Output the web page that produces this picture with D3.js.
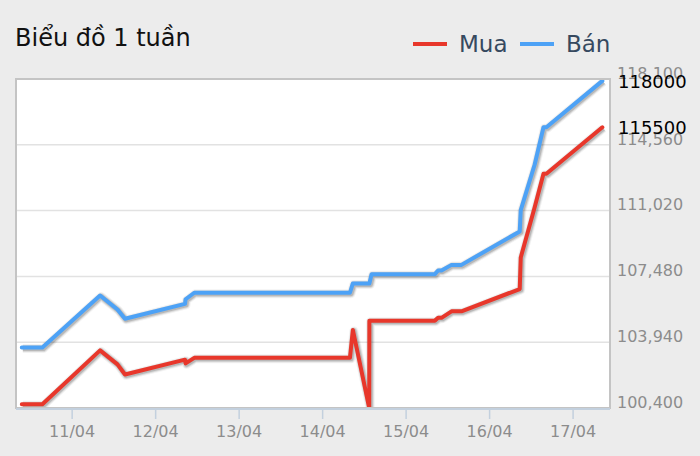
<!DOCTYPE html>
<html><head><meta charset="utf-8">
<script src="https://cdn.jsdelivr.net/npm/d3@7"></script>
<style>
html,body{margin:0;padding:0;background:#ececec;}
svg{display:block;font-family:"DejaVu Sans",sans-serif;}
</style></head>
<body><svg id="c" width="700" height="456"></svg>
<script>
const times = ["2025-04-10T09:40","2025-04-10T15:35","2025-04-11T08:10","2025-04-11T13:10","2025-04-11T15:20",
"2025-04-12T08:35","2025-04-12T08:45","2025-04-12T11:15","2025-04-14T08:00","2025-04-14T08:50",
"2025-04-14T13:32","2025-04-14T13:35","2025-04-14T14:13","2025-04-15T08:24","2025-04-15T09:20",
"2025-04-15T10:19","2025-04-15T13:11","2025-04-15T16:03","2025-04-16T08:48","2025-04-16T09:06",
"2025-04-16T13:06","2025-04-16T15:38","2025-04-16T16:28","2025-04-17T08:33"];
const banValues = [103650,103650,106450,105700,105200,106000,106250,106600,106600,107100,
107100,107100,107600,107600,107800,107800,108100,108100,109900,111050,113500,115500,115500,118000];
const muaValues = [100600,100600,103500,102750,102200,103000,102800,103100,103100,104600,
100400,105100,105100,105100,105250,105250,105600,105600,106800,108500,111200,113000,113000,115500];
const yTicks = [100400,103940,107480,111020,114560,118100];
const xTickDates = ["2025-04-11","2025-04-12","2025-04-13","2025-04-14","2025-04-15","2025-04-16","2025-04-17"];
const seriesNames = ["Mua","Bán"];
const lastLabels = ["115500","118000"];

const parse = d3.timeParse("%Y-%m-%dT%H:%M");
const parseDay = d3.timeParse("%Y-%m-%d");
const svg = d3.select("#c");
const L=16, R=610, T=79, B=408;
const x = d3.scaleTime().domain([parse("2025-04-10T08:00"), parse("2025-04-17T10:45")]).range([L,R]);
const y = d3.scaleLinear().domain([100400,118100]).range([B,T]);
const colors = {"Mua":"#e8372b","Bán":"#4da2f6"};

// title
svg.append("text").attr("x",15).attr("y",46).attr("font-size",24).attr("fill","#111").text("Biểu đồ 1 tuần");

// plot bg
svg.append("rect").attr("x",L).attr("y",T).attr("width",R-L).attr("height",B-T).attr("fill","#fff");

// grid
svg.append("g").selectAll("line").data(yTicks).join("line")
 .attr("x1",L).attr("x2",R).attr("y1",d=>y(d)).attr("y2",d=>y(d))
 .attr("stroke","#e2e2e2").attr("stroke-width",1.5);

svg.append("clipPath").attr("id","clip").append("rect").attr("x",L).attr("y",T-6).attr("width",R-L).attr("height",B-T+5);

const data = times.map((t,i)=>({t:parse(t), mua:muaValues[i], ban:banValues[i]}));
const series = [{name:"Mua", key:"mua"},{name:"Bán", key:"ban"}];
const g = svg.append("g").attr("clip-path","url(#clip)");
series.forEach(s=>{
  const line = d3.line().x(d=>x(d.t)).y(d=>y(d[s.key]));
  const p = line(data);
  [[9,0.05],[7,0.1],[5,0.15]].forEach(([w,o])=>{
    g.append("path").attr("d",p).attr("fill","none").attr("stroke","#000").attr("stroke-opacity",o)
     .attr("stroke-width",w).attr("transform","translate(1,1)").attr("stroke-linejoin","round");
  });
  g.append("path").attr("d",p).attr("fill","none").attr("stroke",colors[s.name]).attr("stroke-width",4)
   .attr("stroke-linejoin","round").attr("stroke-linecap","round");
});

// border
svg.append("rect").attr("x",L).attr("y",T).attr("width",R-L).attr("height",B-T).attr("fill","none")
 .attr("stroke","#c4c4c4").attr("stroke-width",2);
// x axis
const xAxis = d3.axisBottom(x).tickValues(xTickDates.map(parseDay)).tickFormat(d3.timeFormat("%d/%m")).tickSize(10).tickPadding(7);
const ax = svg.append("g").attr("transform",`translate(0,${B+1})`).call(xAxis);
ax.select(".domain").attr("stroke","#c3d0de").attr("stroke-width",2).attr("d",`M${L},0H${R}`);
ax.selectAll(".tick line").attr("stroke","#c3d0de").attr("stroke-width",1.5);
ax.selectAll(".tick text").attr("fill","#8c8c8c").attr("font-size",16).attr("font-family","DejaVu Sans");

// y labels
const yAxis = d3.axisRight(y).tickValues(yTicks).tickFormat(d3.format(",")).tickSize(0).tickPadding(7);
const ay = svg.append("g").attr("transform",`translate(${R},0)`).call(yAxis);
ay.select(".domain").remove();
ay.selectAll(".tick text").attr("fill","#8c8c8c").attr("font-size",16).attr("font-family","DejaVu Sans").attr("dy","-0.05em");

// last value labels
const lastVals = [muaValues[muaValues.length-1], banValues[banValues.length-1]];
lastVals.forEach((v,i)=>{
  svg.append("text").attr("x",R+8).attr("y",y(v)+7).attr("font-size",18).attr("fill","#000").text(lastLabels[i]);
});

// legend
const leg = svg.append("g");
[[413,459,"Mua"],[520,566,"Bán"]].forEach(([lx,tx,n])=>{
  leg.append("line").attr("x1",lx).attr("x2",lx+34).attr("y1",44).attr("y2",44).attr("stroke",colors[n]).attr("stroke-width",4);
  leg.append("text").attr("x",tx).attr("y",52).attr("font-size",23).attr("fill","#36495f").text(n);
});
</script></body></html>
